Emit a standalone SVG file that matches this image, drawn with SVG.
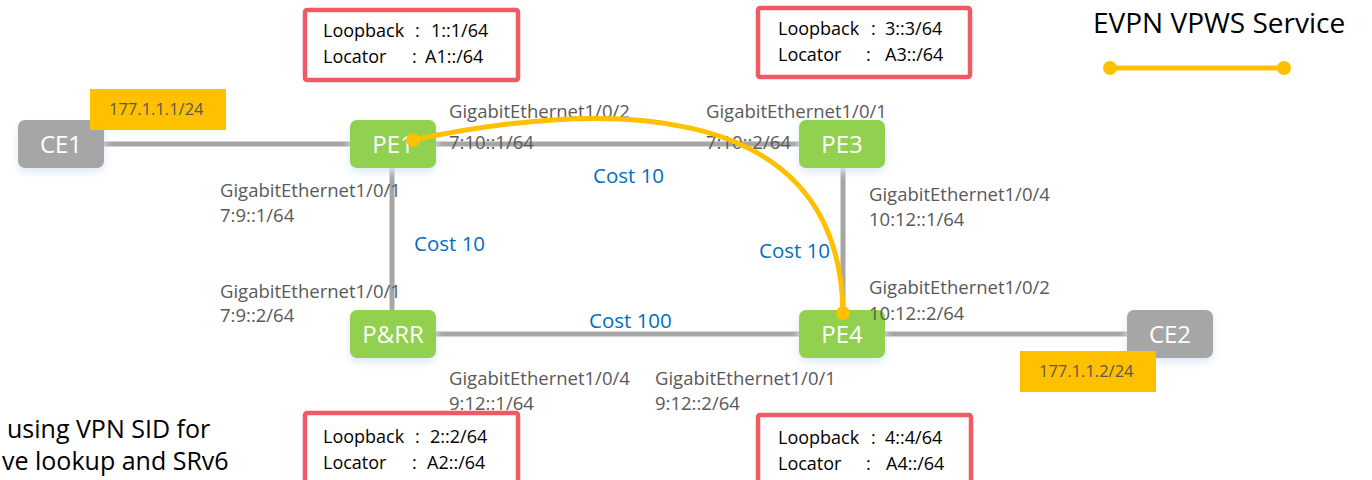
<svg xmlns="http://www.w3.org/2000/svg" width="1372" height="480" viewBox="0 0 1372 480">
<defs>
<style>
.lnk{stroke:#a6a6a6;stroke-width:5;fill:none}
.node{stroke:none}
.pe{fill:#92d050}
.ce{fill:#a6a6a6}
.nt{font-family:"Open Sans","Liberation Sans",sans-serif;font-size:24px;fill:#ffffff;text-anchor:middle}
.if{font-family:"Open Sans","Liberation Sans",sans-serif;font-size:18.5px;fill:#595959}
.cost{font-family:"Open Sans","Liberation Sans",sans-serif;font-size:20.5px;fill:#0070c0}
.box{fill:#ffffff;stroke:#f05a64;stroke-width:4.5}
.bt{font-family:"Open Sans","Liberation Sans",sans-serif;font-size:18px;fill:#000000}
.tag{fill:#ffc000}
.tt{font-family:"Open Sans","Liberation Sans",sans-serif;font-size:16.5px;fill:#595959}
.svc{stroke:#ffc000;stroke-width:5;fill:none}
.dot{fill:#ffc000}
</style>
<filter id="glow" x="-20%" y="-20%" width="140%" height="140%">
<feGaussianBlur stdDeviation="4"/>
</filter>
</defs>
<rect width="1372" height="480" fill="#ffffff"/>

<g id="connectors">
<line class="lnk" x1="104" y1="144" x2="350" y2="144"/>
<line class="lnk" x1="436" y1="144" x2="799" y2="144"/>
<line class="lnk" x1="392" y1="168" x2="392" y2="310"/>
<line class="lnk" x1="843" y1="168" x2="843" y2="310"/>
<line class="lnk" x1="436" y1="334" x2="799" y2="334"/>
<line class="lnk" x1="885" y1="334" x2="1127" y2="334"/>
</g>

<g id="CE1">
<rect x="18" y="124" width="86" height="48" rx="8" fill="#dbe9f7" filter="url(#glow)"/>
<rect class="node ce" x="18" y="120" width="86" height="48" rx="7"/>
<text class="nt" x="61" y="153">CE1</text>
</g>
<g id="PE1">
<rect x="350" y="124" width="86" height="48" rx="8" fill="#dbe9f7" filter="url(#glow)"/>
<rect class="node pe" x="350" y="120" width="86" height="48" rx="7"/>
<text class="nt" x="393" y="153">PE1</text>
</g>
<g id="PE3">
<rect x="799" y="124" width="86" height="48" rx="8" fill="#dbe9f7" filter="url(#glow)"/>
<rect class="node pe" x="799" y="120" width="86" height="48" rx="7"/>
<text class="nt" x="842" y="153">PE3</text>
</g>
<g id="PRR">
<rect x="350" y="314" width="86" height="48" rx="8" fill="#dbe9f7" filter="url(#glow)"/>
<rect class="node pe" x="350" y="310" width="86" height="48" rx="7"/>
<text class="nt" x="393" y="343">P&amp;RR</text>
</g>
<g id="PE4">
<rect x="799" y="314" width="86" height="48" rx="8" fill="#dbe9f7" filter="url(#glow)"/>
<rect class="node pe" x="799" y="310" width="86" height="48" rx="7"/>
<text class="nt" x="842" y="343">PE4</text>
</g>
<g id="CE2">
<rect x="1127" y="314" width="86" height="48" rx="8" fill="#dbe9f7" filter="url(#glow)"/>
<rect class="node ce" x="1127" y="310" width="86" height="48" rx="7"/>
<text class="nt" x="1170" y="343">CE2</text>
</g>

<g id="tag1">
<rect class="tag" x="90" y="89" width="136" height="41"/>
<text class="tt" x="109" y="115">177.1.1.1/24</text>
</g>
<g id="tag2">
<rect class="tag" x="1020" y="351" width="136" height="41"/>
<text class="tt" x="1039" y="377">177.1.1.2/24</text>
</g>

<g id="labels">
<text class="if" x="449" y="118">GigabitEthernet1/0/2</text>
<text class="if" x="449" y="149">7:10::1/64</text>
<text class="if" x="706" y="118">GigabitEthernet1/0/1</text>
<text class="if" x="706" y="149">7:10::2/64</text>
<text class="if" x="220" y="197">GigabitEthernet1/0/1</text>
<text class="if" x="220" y="222">7:9::1/64</text>
<text class="if" x="220" y="298">GigabitEthernet1/0/1</text>
<text class="if" x="220" y="322">7:9::2/64</text>
<text class="if" x="869" y="201">GigabitEthernet1/0/4</text>
<text class="if" x="869" y="226">10:12::1/64</text>
<text class="if" x="869" y="294">GigabitEthernet1/0/2</text>
<text class="if" x="869" y="320">10:12::2/64</text>
<text class="if" x="449" y="385">GigabitEthernet1/0/4</text>
<text class="if" x="449" y="410">9:12::1/64</text>
<text class="if" x="655" y="385">GigabitEthernet1/0/1</text>
<text class="if" x="655" y="410">9:12::2/64</text>
<text class="cost" x="593" y="183">Cost 10</text>
<text class="cost" x="414" y="251">Cost 10</text>
<text class="cost" x="759" y="258">Cost 10</text>
<text class="cost" x="589" y="328">Cost 100</text>
</g>

<g id="service">
<path class="svc" d="M413,140 C580,105 840,85 843,313"/>
<circle class="dot" cx="413" cy="140" r="7"/>
<circle class="dot" cx="843" cy="313" r="7"/>
</g>

<g id="box1">
<rect class="box" x="305" y="10" width="213" height="70" rx="2"/>
<text class="bt" x="323" y="37">Loopback</text><text class="bt" x="415" y="37">:</text><text class="bt" x="431" y="37">1::1/64</text>
<text class="bt" x="323" y="63">Locator</text><text class="bt" x="412" y="63">:</text><text class="bt" x="425" y="63">A1::/64</text>
</g>
<g id="box2">
<rect class="box" x="758" y="8" width="212" height="69" rx="2"/>
<text class="bt" x="778" y="35">Loopback</text><text class="bt" x="871" y="35">:</text><text class="bt" x="885" y="35">3::3/64</text>
<text class="bt" x="778" y="61">Locator</text><text class="bt" x="866" y="61">:</text><text class="bt" x="885" y="61">A3::/64</text>
</g>
<g id="box3">
<rect class="box" x="305" y="413" width="213" height="80" rx="2"/>
<text class="bt" x="323" y="443">Loopback</text><text class="bt" x="415" y="443">:</text><text class="bt" x="430" y="443">2::2/64</text>
<text class="bt" x="323" y="469">Locator</text><text class="bt" x="412" y="469">:</text><text class="bt" x="427" y="469">A2::/64</text>
</g>
<g id="box4">
<rect class="box" x="758" y="415" width="213" height="80" rx="2"/>
<text class="bt" x="778" y="444">Loopback</text><text class="bt" x="871" y="444">:</text><text class="bt" x="885" y="444">4::4/64</text>
<text class="bt" x="778" y="470">Locator</text><text class="bt" x="866" y="470">:</text><text class="bt" x="886" y="470">A4::/64</text>
</g>

<g id="legend">
<text x="1093" y="33" font-family="'Open Sans','Liberation Sans',sans-serif" font-size="28" fill="#000000">EVPN VPWS Service</text>
<line class="svc" x1="1110" y1="68" x2="1284" y2="68"/>
<circle class="dot" cx="1110" cy="68" r="7"/>
<circle class="dot" cx="1284" cy="68" r="7"/>
</g>

<g id="note">
<text x="7" y="438" font-family="'Open Sans','Liberation Sans',sans-serif" font-size="25" fill="#000000">using VPN SID for</text>
<text x="2" y="470" font-family="'Open Sans','Liberation Sans',sans-serif" font-size="25" fill="#000000">ve lookup and SRv6</text>
</g>
</svg>
